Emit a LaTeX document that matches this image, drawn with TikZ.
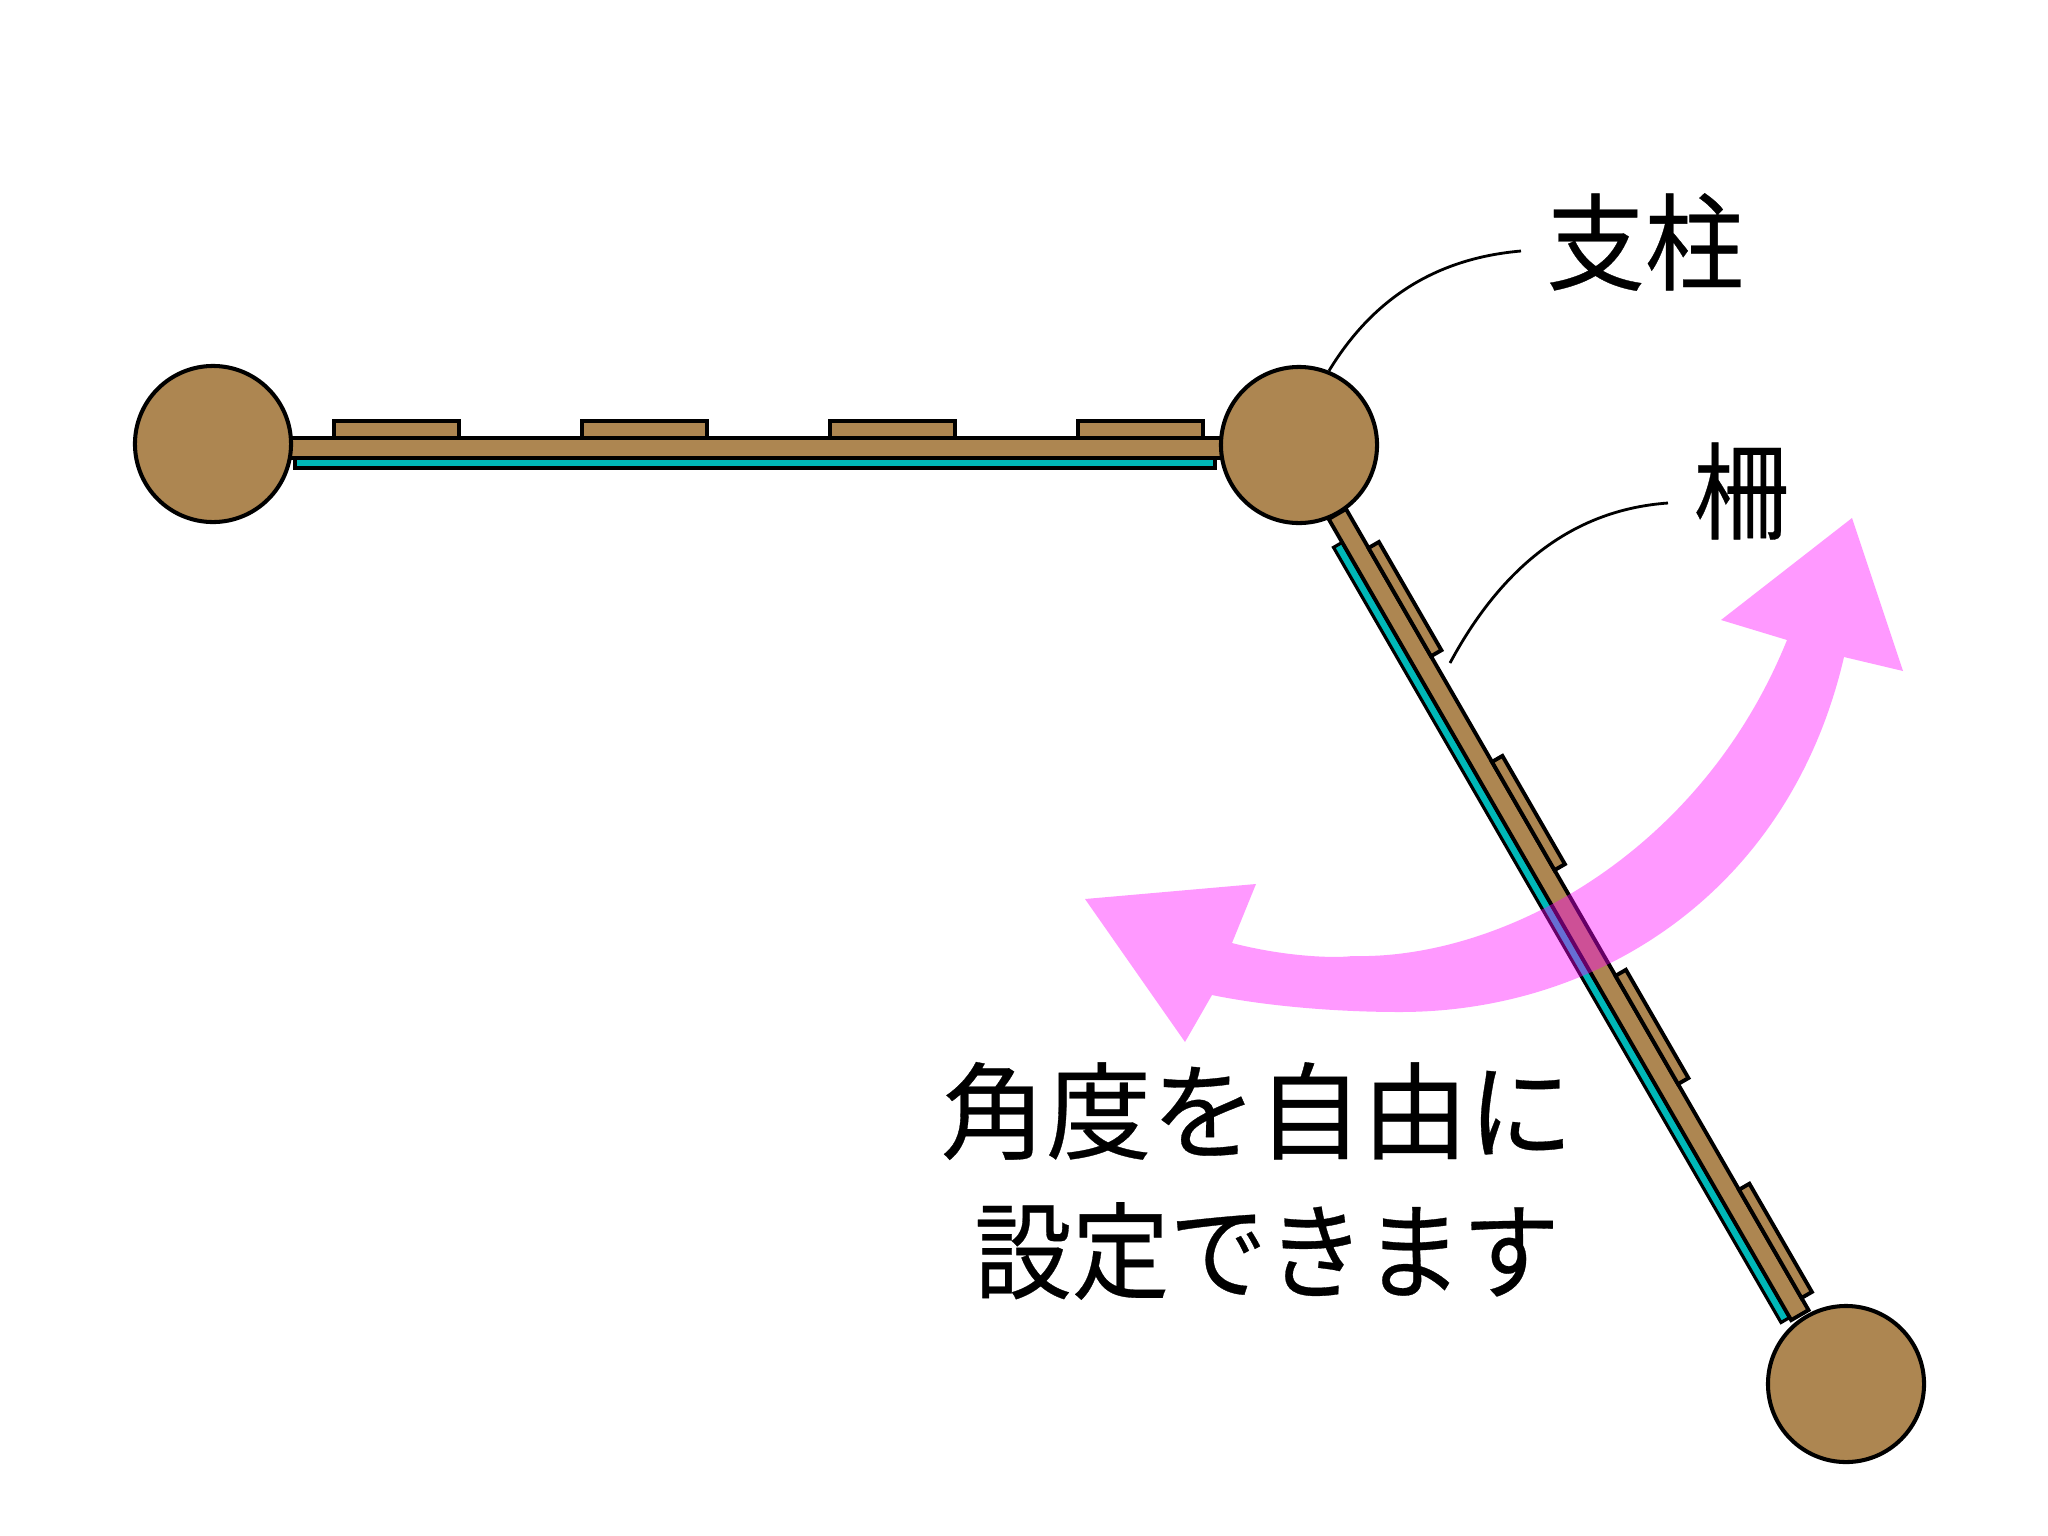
\documentclass[tikz,border=0pt]{standalone}
\usepackage{fontspec}
\newfontfamily\cjk[FakeBold=0.3]{Noto Sans CJK JP}
\definecolor{wood}{HTML}{AD8651}
\definecolor{glass}{HTML}{00B8B8}
\definecolor{swingpink}{HTML}{FF00FF}
\tikzset{
  post/.style={circle,draw=black,fill=wood,line width=1.15pt,minimum size=1.56cm,inner sep=0pt},
  plank/.style={draw=black,fill=wood,line width=1.1pt},
  pane/.style={draw=black,fill=glass,line width=.9pt},
  leader/.style={draw=black,line width=.8pt},
  swing/.style={fill=swingpink,fill opacity=.4,draw=none},
  jp/.style={font=\cjk\fontsize{30}{30}\selectfont,inner sep=0pt,text=black}
}
\newcommand{\fencepanel}[9]{% x, y, rotation, length, slat start, pane start, pane end, slat height, slat spacing
  \begin{scope}[shift={(#1,#2)},rotate=#3]
    \draw[pane] (#6,20) rectangle (#7,30);
    \draw[plank] (0,0) rectangle (#4,20);
    \foreach \n in {0,1,2,3}{
      \draw[plank] (#5+#9*\n,0) rectangle (#5+#9*\n+125,-#8);
    }
  \end{scope}
}
\begin{document}
\begin{tikzpicture}[x=0.01cm,y=-0.01cm]
\useasboundingbox (0,0) rectangle (2048,1536);
\fill[white] (0,0) rectangle (2048,1536);
\fencepanel{290}{438}{0}{932}{44}{5}{925}{17}{248}
\fencepanel{1346}{509}{-60}{925}{45}{27}{922}{12}{247}
\node[post] (p1) at (213,444) {};
\node[post] (p2) at (1299,445) {};
\node[post] (p3) at (1846,1384) {};
\coordinate (gate) at (1450,663);
\coordinate (e1) at (1521,251);
\coordinate (e2) at (1668,503);
\draw[leader] (p2.68) .. controls (1375,295) and (1440,258) .. (e1);
\draw[leader] (gate) .. controls (1500,570) and (1570,510) .. (e2);
\node[jp] (t1) at (1645,242) {\scalebox{.935}[1]{支柱}};
\node[jp] (t2) at (1741,491) {\scalebox{.9}[1]{柵}};
\node[jp] (t3) at (1257,1111) {角度を自由に};
\node[jp] (t4) at (1267,1251) {\scalebox{.925}[1]{設定できます}};
\fill[swing] (1852,518) -- (1903,671) -- (1844,657)
  .. controls (1790,890) and (1600,1012) .. (1400,1012)
  .. controls (1330,1012) and (1260,1005) .. (1212,995)
  -- (1185,1042) -- (1085,899) -- (1256,884) -- (1232,943)
  .. controls (1290,958) and (1340,958) .. (1352,956)
  .. controls (1500,960) and (1700,855) .. (1787,640)
  -- (1721,620) -- cycle;
\end{tikzpicture}
\end{document}
